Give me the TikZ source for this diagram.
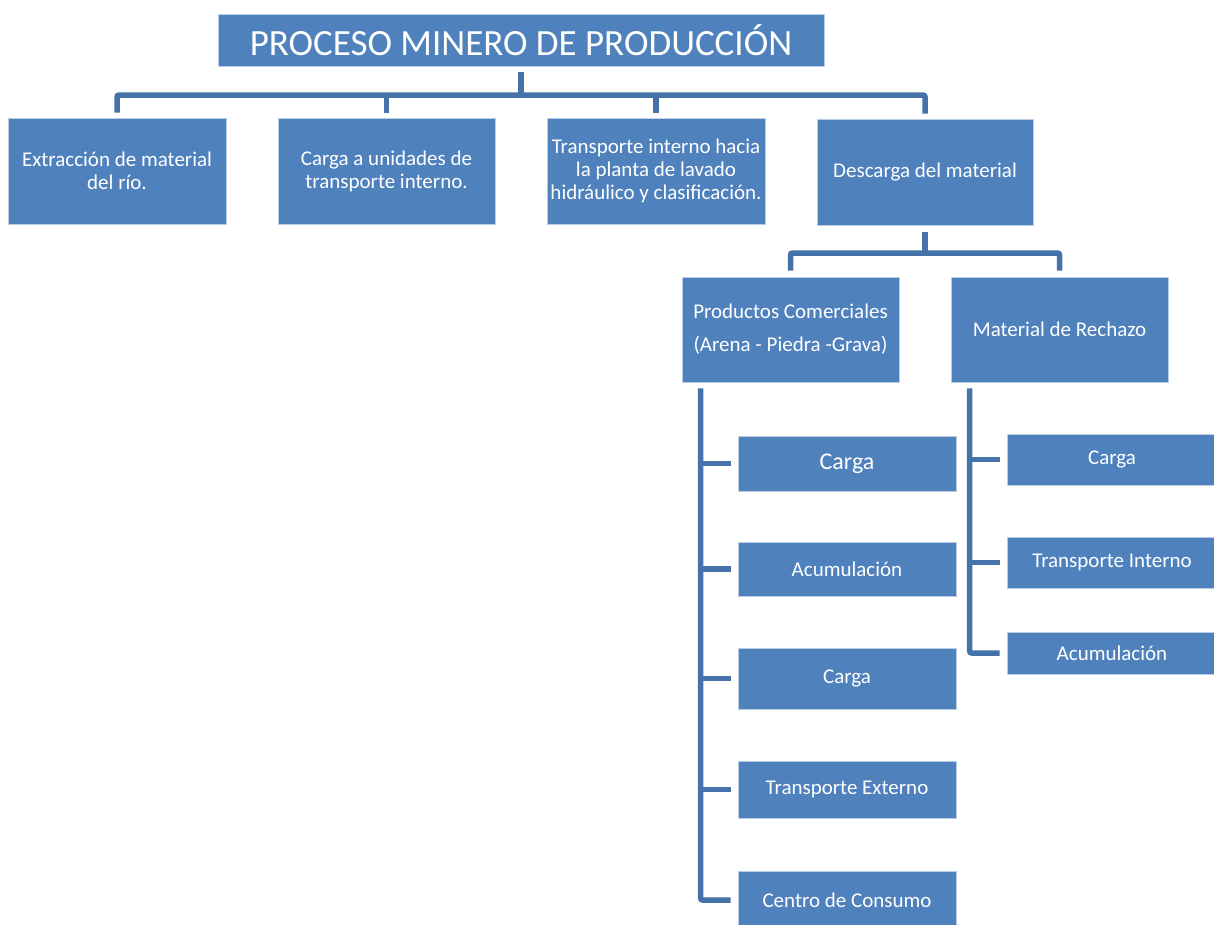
\documentclass[tikz,border=0pt]{standalone}
\usepackage{fontspec}
\setmainfont{Carlito}
\definecolor{boxfill}{RGB}{79,129,189}
\definecolor{boxedge}{RGB}{185,205,229}
\definecolor{conncol}{RGB}{70,114,170}
\begin{document}
\begin{tikzpicture}[x=1pt,y=-1pt,
  box/.style={rectangle, fill=boxfill, draw=boxedge, line width=0.8pt, text=white,
    align=center, inner sep=1pt, font=\fontsize{21}{23}\selectfont},
  conn/.style={draw=conncol, line width=5.5pt, rounded corners=2pt}]
\useasboundingbox (0,0) rectangle (1214,924);
% nodes
\node[box, minimum width=606pt, minimum height=52pt, font=\fontsize{37}{40}\selectfont] (title) at (521,40) {PROCESO MINERO DE PRODUCCIÓN};
\node[box, minimum width=218pt, minimum height=106pt] (b1) at (117,171) {Extracción de material\\del río.};
\node[box, minimum width=217pt, minimum height=106pt] (b2) at (386.5,171) {Carga a unidades de\\transporte interno.};
\node[box, minimum width=218pt, minimum height=106pt] (b3) at (656,171) {Transporte interno hacia\\la planta de lavado\\hidráulico y clasificación.};
\node[box, minimum width=216pt, minimum height=106pt] (b4) at (925,172) {Descarga del material};
\node[box, minimum width=217pt, minimum height=105pt, font=\fontsize{21}{33}\selectfont] (pc) at (790.5,329.5) {Productos Comerciales\\(Arena - Piedra -Grava)};
\node[box, minimum width=217pt, minimum height=105pt] (mr) at (1059.5,329.5) {Material de Rechazo};
\node[box, minimum width=218pt, minimum height=55pt, font=\fontsize{24}{26}\selectfont] (c1) at (847,463.5) {Carga};
\node[box, minimum width=218pt, minimum height=54pt] (c2) at (847,569) {Acumulación};
\node[box, minimum width=218pt, minimum height=61pt] (c3) at (847,678.5) {Carga};
\node[box, minimum width=218pt, minimum height=57pt] (c4) at (847,789.5) {Transporte Externo};
\node[box, minimum width=218pt, minimum height=58pt] (c5) at (847,900) {Centro de Consumo};
\node[box, minimum width=210pt, minimum height=51pt] (r1) at (1112,459.5) {Carga};
\node[box, minimum width=210pt, minimum height=51pt] (r2) at (1112,562.5) {Transporte Interno};
\node[box, minimum width=210pt, minimum height=42pt] (r3) at (1112,653) {Acumulación};
% top bracket
\coordinate (busA) at (521,95);
\draw[conn] ([yshift=-6pt]title.south) -- (busA);
\draw[conn] ([yshift=5pt]b1.north) |- (busA) -| ([yshift=5pt]b4.north);
\draw[conn] ([yshift=5pt]b2.north) -- (b2.north |- busA);
\draw[conn] ([yshift=5pt]b3.north) -- (b3.north |- busA);
% descarga bracket
\coordinate (busB) at (925,253);
\draw[conn] ([yshift=-7pt]b4.south) -- (busB);
\draw[conn] ([yshift=6pt]pc.north) |- (busB) -| ([yshift=6pt]mr.north);
% productos comerciales spine
\coordinate (spA) at ([xshift=19pt,yshift=-6pt]pc.south west);
\draw[conn] (spA) |- ([xshift=-7pt]c5.west);
\foreach \n in {c1,c2,c3,c4} {\draw[conn] (spA |- \n.west) -- ([xshift=-7pt]\n.west);}
% rechazo spine
\coordinate (spB) at ([xshift=19pt,yshift=-6pt]mr.south west);
\draw[conn] (spB) |- ([xshift=-7pt]r3.west);
\foreach \n in {r1,r2} {\draw[conn] (spB |- \n.west) -- ([xshift=-7pt]\n.west);}
\end{tikzpicture}
\end{document}
